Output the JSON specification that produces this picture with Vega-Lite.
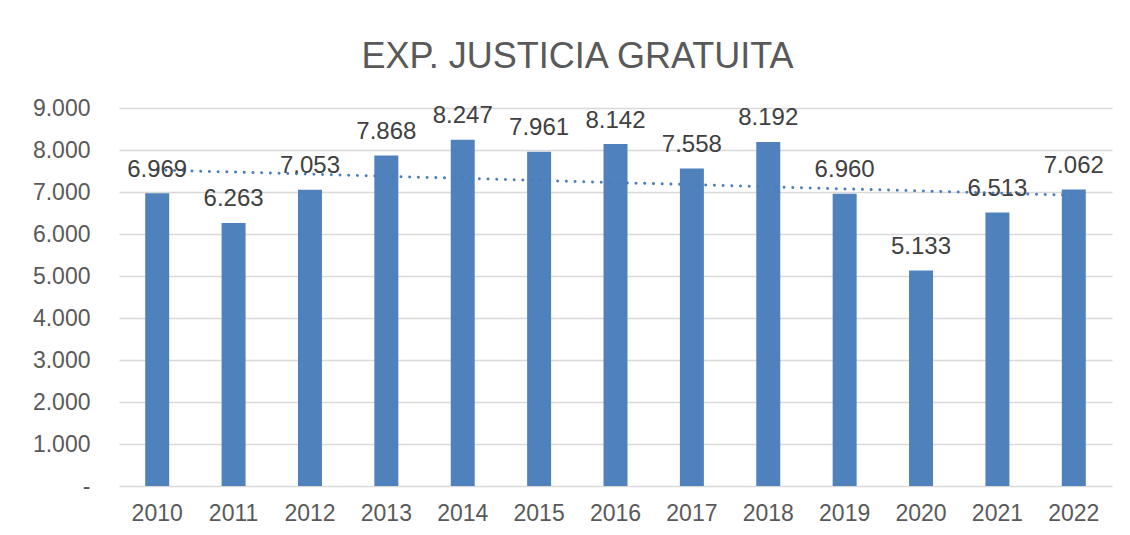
{
  "$schema": "https://vega.github.io/schema/vega-lite/v6.json",
  "autosize": "none",
  "width": 993,
  "height": 378,
  "padding": {"left": 119, "top": 108, "right": 18, "bottom": 49},
  "background": "white",
  "config": {
    "font": "Liberation Sans",
    "view": {"stroke": null},
    "locale": {"number": {"decimal": ",", "thousands": ".", "grouping": [3], "currency": ["", " €"]}}
  },
  "title": {
    "text": "EXP. JUSTICIA GRATUITA",
    "fontSize": 36,
    "font": "Liberation Sans",
    "fontWeight": "normal",
    "color": "#595959",
    "anchor": "middle",
    "dx": -38,
    "dy": 35,
    "offset": 28,
    "baseline": "alphabetic"
  },
  "data": {
    "values": [
      {"year": 2010, "value": 6969},
      {"year": 2011, "value": 6263},
      {"year": 2012, "value": 7053},
      {"year": 2013, "value": 7868},
      {"year": 2014, "value": 8247},
      {"year": 2015, "value": 7961},
      {"year": 2016, "value": 8142},
      {"year": 2017, "value": 7558},
      {"year": 2018, "value": 8192},
      {"year": 2019, "value": 6960},
      {"year": 2020, "value": 5133},
      {"year": 2021, "value": 6513},
      {"year": 2022, "value": 7062}
    ]
  },
  "encoding": {
    "x": {
      "field": "year",
      "type": "ordinal",
      "scale": {"paddingInner": 0.686, "paddingOuter": 0.343},
      "axis": {
        "title": null,
        "labelAngle": 0,
        "labelFontSize": 23,
        "labelColor": "#595959",
        "ticks": false,
        "domain": false,
        "labelPadding": 16
      }
    },
    "y": {
      "field": "value",
      "type": "quantitative",
      "scale": {"domain": [0, 9000], "nice": false},
      "axis": {
        "title": null,
        "values": [0, 1000, 2000, 3000, 4000, 5000, 6000, 7000, 8000, 9000],
        "format": ",.0f",
        "labelExpr": "datum.value === 0 ? '-' : datum.label",
        "labelFontSize": 23,
        "labelColor": "#595959",
        "labelPadding": 29,
        "ticks": false,
        "domain": false,
        "grid": true,
        "gridColor": "#d9d9d9",
        "gridWidth": 1.5
      }
    }
  },
  "layer": [
    {
      "mark": {"type": "bar", "color": "#4f81bd"}
    },
    {
      "transform": [{"regression": "value", "on": "year"}],
      "mark": {
        "type": "line",
        "color": "#4a7ebb",
        "strokeWidth": 3,
        "strokeDash": [0.01, 8.7],
        "strokeCap": "round"
      }
    },
    {
      "mark": {
        "type": "text",
        "dy": -16.5,
        "baseline": "alphabetic",
        "fontSize": 24,
        "color": "#404040"
      },
      "encoding": {
        "text": {"field": "value", "type": "quantitative", "format": ",.0f"}
      }
    }
  ]
}
